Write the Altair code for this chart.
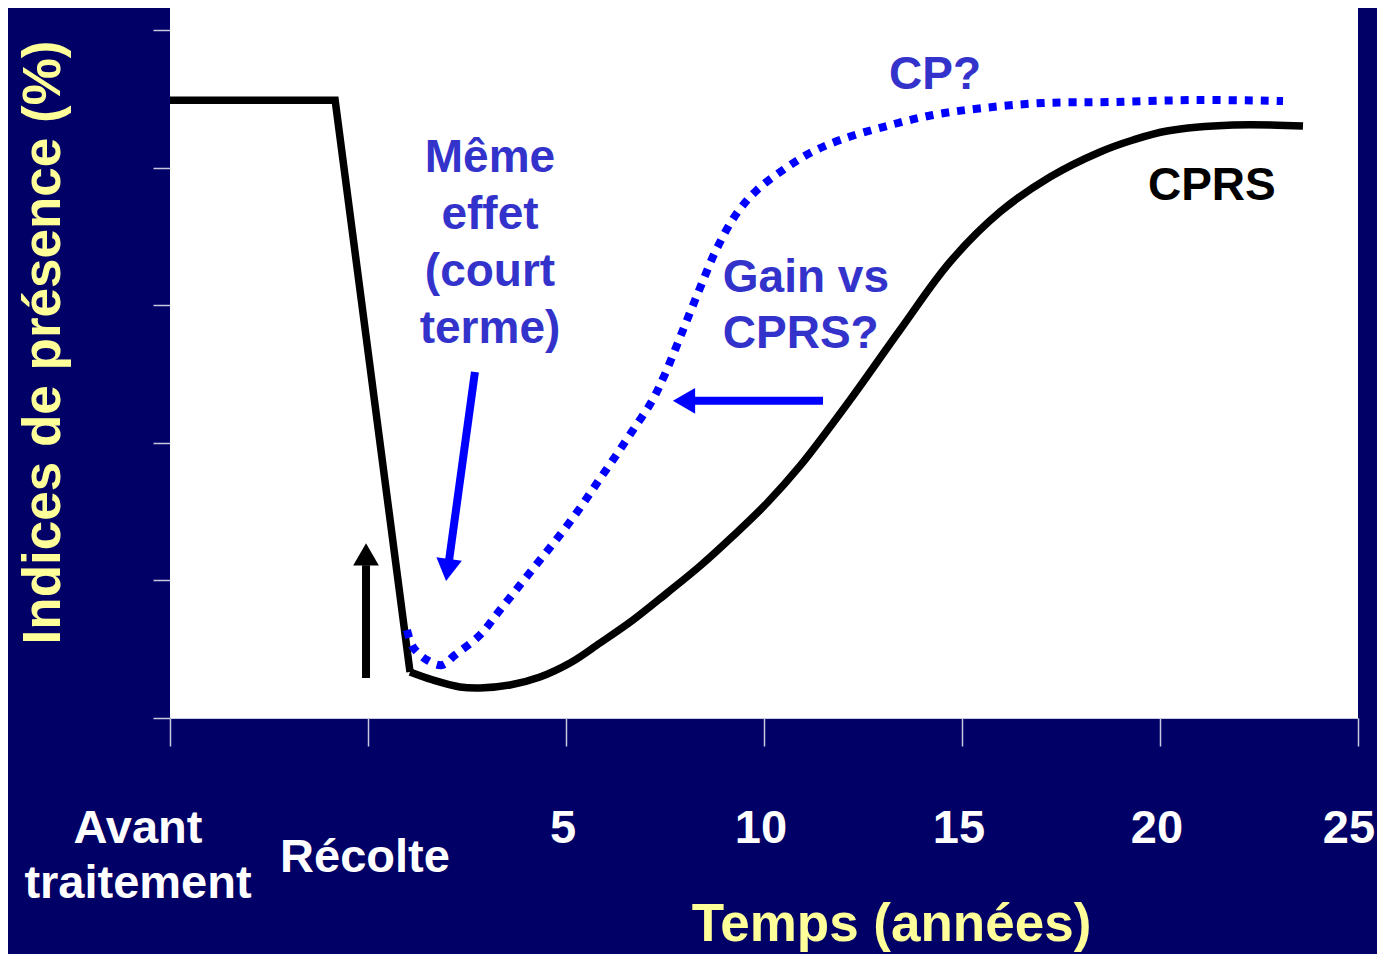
import altair as alt
import pandas as pd

FONT = "Liberation Sans"
NAVY = "#000066"
ANN = "#3333CC"
BLUE = "#0000FF"
YELLOW = "#FFFF99"
TICK = "#C8C8E0"

# CPRS curve (black solid): steep part (first 3 points) + smooth recovery
cprs_x = [-5.0, -0.83, 1.061, 1.641, 2.323, 2.828, 3.586, 4.343, 5.101, 5.859,
          6.692, 7.551, 8.384, 9.217, 10.076, 10.909, 12.172, 13.434, 14.697,
          15.960, 17.222, 18.485, 19.318, 20.177, 21.843, 23.611]
cprs_y = [89.8, 89.8, 6.69, 5.52, 4.51, 4.36, 4.80, 5.96, 7.99, 10.90,
          14.24, 18.17, 22.09, 26.45, 31.25, 36.63, 46.22, 56.40, 66.28,
          73.55, 78.63, 82.27, 84.01, 85.32, 86.19, 86.05]

# CP curve (blue dotted)
cp_x = [0.985, 1.136, 1.490, 1.869, 2.197, 2.828, 3.333, 3.838, 4.343, 4.848,
        5.354, 5.783, 6.237, 6.692, 7.172, 7.500, 7.955, 8.384, 8.813, 9.318,
        9.823, 10.480, 11.162, 11.919, 13.005, 14.268, 15.530, 17.045, 18.813,
        20.934, 23.106]
cp_y = [12.79, 10.32, 8.43, 7.70, 9.16, 12.06, 15.70, 19.33, 22.97, 26.60,
        30.52, 34.16, 37.94, 41.86, 46.08, 50.0, 56.40, 62.50, 68.31, 73.40,
        76.74, 79.65, 82.12, 84.01, 85.90, 87.65, 88.66, 89.39, 89.53,
        89.83, 89.68]

# axis ticks
x_ticks = [-5, 0, 5, 10, 15, 20, 25]
y_ticks = [0, 20, 40, 60, 80, 100]
num_ticks = [5, 10, 15, 20]
num_labels = ["5", "10", "15", "20"]

# arrows: shaft start, shaft end, head position, head shape/angle, colour
arr_x1 = [2.70, 11.49, -0.05]
arr_y1 = [50.3, 46.1, 5.81]
arr_x2 = [2.04, 8.13, -0.05]
arr_y2 = [22.6, 46.1, 22.2]
head_x = [2.01, 7.98, -0.05]
head_y = [21.5, 46.1, 23.8]
head_shape = ["triangle-down", "triangle-left", "triangle-up"]
head_angle = [7.9, 0, 0]
arr_color = [BLUE, BLUE, "black"]

# annotations
ann_c_text = ["Même\neffet\n(court\nterme)", "CP?", "CPRS"]
ann_c_x = [3.08, 14.32, 21.31]
ann_c_y = [79.4, 91.4, 75.3]
ann_c_color = [ANN, ANN, "black"]
ann_l_text = ["Gain vs\nCPRS?"]
ann_l_x = [8.96]
ann_l_y = [61.9]

xs = alt.Scale(domain=[-5, 25], nice=False, zero=False)
ys = alt.Scale(domain=[0, 103.2], nice=False, zero=False)

cprs = pd.DataFrame({"x": cprs_x, "y": cprs_y})
cp = pd.DataFrame({"x": cp_x, "y": cp_y})
arrows = pd.DataFrame({"x": arr_x1, "y": arr_y1, "x2": arr_x2, "y2": arr_y2, "c": arr_color})
heads = pd.DataFrame({"x": head_x, "y": head_y, "shape": head_shape, "angle": head_angle, "c": arr_color})
ann_c = pd.DataFrame({"x": ann_c_x, "y": ann_c_y, "t": ann_c_text, "c": ann_c_color})
ann_l = pd.DataFrame({"x": ann_l_x, "y": ann_l_y, "t": ann_l_text})
nums = pd.DataFrame({"x": num_ticks, "t": num_labels})
last = pd.DataFrame({"x": [25], "t": ["25"]})
rec = pd.DataFrame({"x": [0], "t": ["Récolte"]})
avant = pd.DataFrame({"x": [-5], "t": ["Avant\ntraitement"]})

x_axis = alt.Axis(values=x_ticks, labels=False, grid=False, tickSize=28, tickWidth=1.5,
                  tickColor=TICK, domainColor=TICK, domainWidth=1,
                  title="Temps (années)", titleFont=FONT, titleFontSize=53,
                  titleFontWeight="bold", titleColor=YELLOW, titleX=721, titleY=222,
                  titleAlign="center", titleBaseline="alphabetic")
y_axis = alt.Axis(values=y_ticks, labels=False, grid=False, tickSize=17, tickWidth=1.5,
                  tickColor=TICK, domain=False,
                  title="Indices de présence (%)", titleFont=FONT, titleFontSize=53,
                  titleFontWeight="bold", titleColor=YELLOW, titleAngle=270,
                  titleX=-111, titleY=334, titleAlign="center", titleBaseline="alphabetic")

X = alt.X("x:Q", scale=xs, axis=x_axis)
Y = alt.Y("y:Q", scale=ys, axis=y_axis)

steep = alt.Chart(cprs.iloc[:3]).mark_line(
    color="black", strokeWidth=7.5, strokeJoin="miter", strokeCap="butt"
).encode(x=X, y=Y)

smooth = alt.Chart(cprs.iloc[2:]).mark_line(
    color="black", strokeWidth=7.5, interpolate="catmull-rom", strokeCap="butt"
).encode(x=X, y=Y)

cpl = alt.Chart(cp).mark_line(
    color=BLUE, strokeWidth=8, strokeDash=[8, 8], interpolate="catmull-rom", strokeCap="butt"
).encode(x=X, y=Y)

shafts = alt.Chart(arrows).mark_rule(strokeWidth=8).encode(
    x=X, y=Y, x2="x2:Q", y2="y2:Q", color=alt.Color("c:N", scale=None))

heads_l = alt.Chart(heads).mark_point(filled=True, size=660, opacity=1, strokeWidth=0).encode(
    x=X, y=Y,
    shape=alt.Shape("shape:N", scale=None), angle=alt.Angle("angle:Q", scale=None),
    color=alt.Color("c:N", scale=None))

ann_center = alt.Chart(ann_c).mark_text(
    font=FONT, fontSize=46, fontWeight="bold", align="center", baseline="alphabetic",
    lineBreak="\n", lineHeight=57
).encode(x=X, y=Y, text="t:N", color=alt.Color("c:N", scale=None))

ann_left = alt.Chart(ann_l).mark_text(
    font=FONT, fontSize=46, fontWeight="bold", align="left", baseline="alphabetic",
    lineBreak="\n", lineHeight=56, color=ANN
).encode(x=X, y=Y, text="t:N")

label_style = dict(font=FONT, fontSize=47, fontWeight="bold", align="center",
                   baseline="alphabetic", color="white")

lab_nums = alt.Chart(nums).mark_text(dx=-3, **label_style).encode(
    x=X, y=alt.value(835), text="t:N")
lab_last = alt.Chart(last).mark_text(dx=-9, **label_style).encode(
    x=X, y=alt.value(835), text="t:N")
lab_rec = alt.Chart(rec).mark_text(dx=-3, **label_style).encode(
    x=X, y=alt.value(864), text="t:N")
lab_avant = alt.Chart(avant).mark_text(dx=-32, lineBreak="\n", lineHeight=55, **label_style).encode(
    x=X, y=alt.value(835), text="t:N")

chart = alt.layer(
    steep, smooth, cpl, shafts, heads_l, ann_center, ann_left,
    lab_nums, lab_last, lab_rec, lab_avant
).properties(
    width=1188, height=710,
    padding={"left": 162, "top": 0, "right": 19, "bottom": 236},
    autosize=alt.AutoSizeParams(type="none"),
    background=NAVY,
).configure_view(fill="white", strokeWidth=0)

chart.save("out.html", embed_options={"renderer": "svg", "actions": False})
